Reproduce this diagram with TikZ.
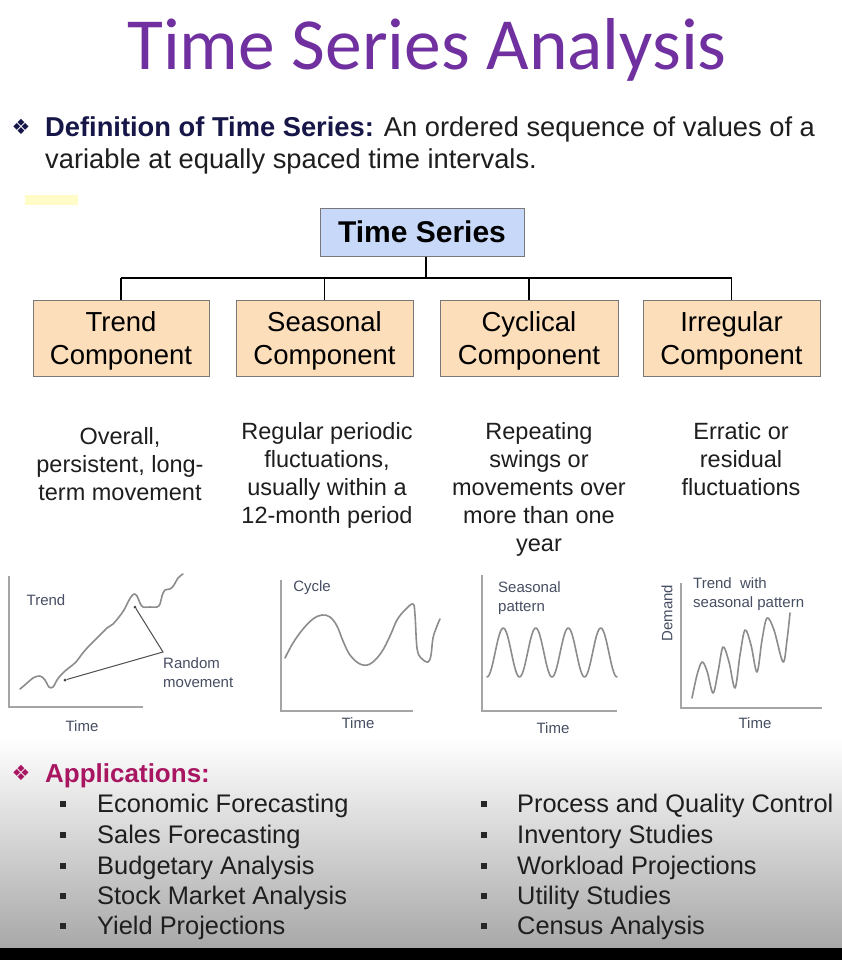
\documentclass[tikz,border=0pt]{standalone}
\usepackage{fontspec}
\setmainfont{Liberation Sans}
\newfontfamily\titlefont{Carlito}
\newfontfamily\symfont{DejaVu Sans}
\definecolor{titlepurple}{RGB}{112,48,160}
\definecolor{navy}{RGB}{22,22,72}
\definecolor{appmag}{RGB}{168,22,98}
\definecolor{tsblue}{RGB}{200,216,248}
\definecolor{peach}{RGB}{252,222,186}
\definecolor{boxline}{RGB}{120,120,120}
\definecolor{txt}{RGB}{30,30,30}
\definecolor{chartlbl}{RGB}{70,78,98}
\definecolor{axisgray}{RGB}{165,165,165}
\definecolor{curvegray}{RGB}{140,140,140}
\definecolor{bottomgray}{RGB}{168,168,168}
\begin{document}
\begin{tikzpicture}[x=1pt,y=-1pt,
  tsbox/.style={draw=boxline,line width=1pt,fill=tsblue,minimum width=204pt,minimum height=48pt,inner sep=0pt,font=\fontsize{30}{34}\selectfont\bfseries,text=black},
  compbox/.style={draw=boxline,line width=1pt,fill=peach,minimum height=76pt,inner sep=0pt,align=center,font=\fontsize{27.5}{33}\selectfont,text=black},
  desc/.style={anchor=north,inner sep=0pt,align=center,font=\fontsize{23.5}{28}\selectfont,text=txt},
  tree/.style={draw=black,line width=1.3pt},
  axis/.style={draw=axisgray,line width=1.5pt},
  curve/.style={draw=curvegray,line width=1.6pt,line cap=round,line join=round},
  clbl/.style={inner sep=0pt,font=\fontsize{15}{19}\selectfont,text=chartlbl},
  item/.style={anchor=base west,inner sep=0pt,font=\fontsize{25.4}{28}\selectfont,text=txt},
  sqbullet/.style={fill=black!85,minimum width=5.5pt,minimum height=6.5pt,inner sep=0pt},
  dotpt/.style={circle,fill=black!75,minimum size=3pt,inner sep=0pt}
]
\useasboundingbox (0,0) rectangle (842,960);
% background
\fill[white] (0,0) rectangle (842,960);
\shade[top color=white,bottom color=bottomgray] (0,738) rectangle (842,948);
\fill[black] (0,948) rectangle (842,960);
\fill[yellow!22] (25,195) rectangle (78,205);

% title
\node[anchor=base,inner sep=0pt,text=titlepurple,font=\titlefont\fontsize{73.5}{80}\selectfont] (title) at (427,70) {Time Series Analysis};

% definition
\node[anchor=center,inner sep=0pt,text=navy,font=\symfont\fontsize{21}{24}\selectfont] (dsym) at (21,127) {❖};
\node[anchor=base west,inner sep=0pt,font=\fontsize{27.3}{33}\selectfont,text=txt] (def1) at (45,137) {\textcolor{navy}{\bfseries Definition of Time Series:} An ordered sequence of values of a};
\node[anchor=base west,inner sep=0pt,font=\fontsize{27.3}{33}\selectfont,text=txt] (def2) at (45,168) {variable at equally spaced time intervals.};

% tree
\node[tsbox] (ts) at (422,232) {Time Series};
\node[compbox,minimum width=176pt] (c1) at (121,338) {\rule{0pt}{26pt}Trend\\Component};
\node[compbox,minimum width=177pt] (c2) at (324.5,338) {\rule{0pt}{26pt}Seasonal\\Component};
\node[compbox,minimum width=178pt] (c3) at (529,338) {\rule{0pt}{26pt}Cyclical\\Component};
\node[compbox,minimum width=177pt] (c4) at (731.5,338) {\rule{0pt}{26pt}Irregular\\Component};
\coordinate (bar) at (426,278);
\draw[tree] (ts.south -| bar) -- (bar);
\draw[tree] (c1.north |- bar) -- (c4.north |- bar);
\foreach \c in {c1,c2,c3,c4} \draw[tree] (\c.north |- bar) -- (\c.north);

% descriptions
\node[desc] (d1) at (120,427) {Overall,\\persistent, long-\\term movement};
\node[desc] (d2) at (327,422) {Regular periodic\\fluctuations,\\usually within a\\12-month period};
\node[desc] (d3) at (539,422) {Repeating\\swings or\\movements over\\more than one\\year};
\node[desc] (d4) at (741,422) {Erratic or\\residual\\fluctuations};

% chart 1: trend
\draw[axis] (9,576) -- (9,707) -- (143,707);
\node[clbl] (t1) at (46,600) {Trend};
\node[clbl] (x1) at (82,726) {Time};
\node[clbl,anchor=north west,align=left] (rm) at (163,657) {Random\\movement};
\draw[curve] plot[smooth,tension=0.6] coordinates {(20,689) (26,684) (33,678) (40,676) (45,680) (49,687) (53,687) (57,680) (61,675) (65,671) (70,667) (76,662) (82,654) (88,647) (95,640) (101,634) (107,628) (113,624) (119,617) (124,610) (128,602) (131,597) (134,594) (137,596) (140,603) (143,607) (150,607) (157,607) (160,604) (162,596) (165,590) (170,589) (174,585) (178,578) (183,574)};
\node[dotpt] (p1) at (65,680) {};
\node[dotpt] (p2) at (135,607) {};
\coordinate (rmc) at (163,652);
\draw[draw=black!70,line width=1pt] (p1) -- (rmc) -- (p2);

% chart 2: cycle
\draw[axis] (281,580) -- (281,711) -- (413,711);
\node[clbl] (t2) at (312,588) {Cycle};
\node[clbl] (x2) at (358,723) {Time};
\draw[curve] plot[smooth,tension=0.6] coordinates {(285,658) (293,643) (303,629) (313,619) (322,615) (330,617) (337,626) (343,641) (350,655) (360,664) (370,664) (381,653) (390,636) (397,620) (405,610) (413,604) (415,615) (417,648) (421,658) (428,662) (431,655) (433,638) (437,626) (440,619)};

% chart 3: seasonal
\draw[axis] (482,575) -- (482,711) -- (617,711);
\node[clbl,anchor=north west,align=left] (t3) at (498,581) {Seasonal\\pattern};
\node[clbl] (x3) at (553,728) {Time};
\draw[curve] plot[domain=0:130,samples=120] ({487+\x},{652.5+24.5*cos(\x*11.0769)});

% chart 4: trend with seasonal
\draw[axis] (681,583) -- (681,708) -- (822,708);
\node[clbl,rotate=90] (t4y) at (667,613) {Demand};
\node[clbl,anchor=north west,align=left] (t4) at (693,577) {Trend\ \ with\\seasonal pattern};
\node[clbl] (x4) at (755,723) {Time};
\draw[curve] plot[smooth,tension=0.55] coordinates {(692,698) (697,675) (702,662) (707,671) (713,693) (718,672) (723,647) (729,662) (735,688) (740,655) (745,630) (751,645) (757,672) (762,640) (767,618) (774,630) (783,662) (787,640) (790,613)};

% applications
\node[anchor=center,inner sep=0pt,text=appmag,font=\symfont\fontsize{21}{24}\selectfont] (asym) at (21,773) {❖};
\node[anchor=base west,inner sep=0pt,text=appmag,font=\fontsize{26}{28}\selectfont\bfseries] (apps) at (45,782) {Applications:};
\foreach \n/\y/\t in {a1/812/Economic Forecasting,a2/843/Sales Forecasting,a3/874/Budgetary Analysis,a4/904/Stock Market Analysis,a5/934/Yield Projections}{
  \node[sqbullet] (b\n) at (63,\y-8) {};
  \node[item] (\n) at (97,\y) {\t};
}
\foreach \n/\y/\t in {e1/812/Process and Quality Control,e2/843/Inventory Studies,e3/874/Workload Projections,e4/904/Utility Studies,e5/934/Census Analysis}{
  \node[sqbullet] (b\n) at (484,\y-8) {};
  \node[item] (\n) at (517,\y) {\t};
}
\end{tikzpicture}
\end{document}
